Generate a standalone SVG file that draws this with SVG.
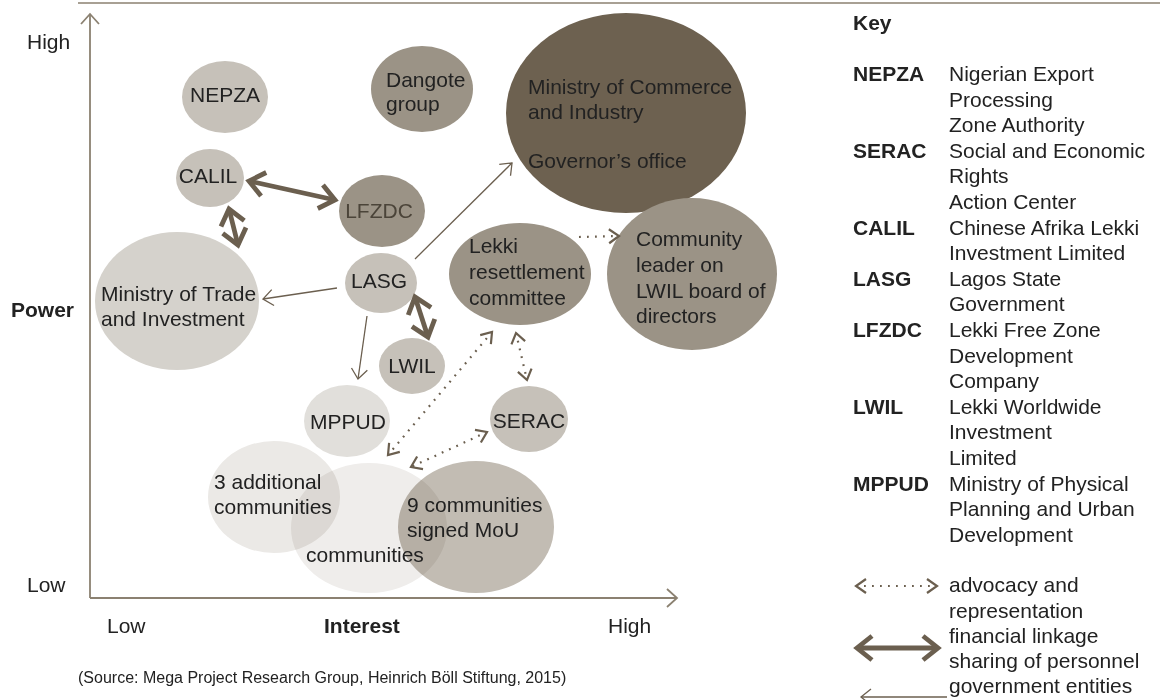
<svg xmlns="http://www.w3.org/2000/svg" width="1160" height="700" viewBox="0 0 1160 700">
<style>
text{font-family:"Liberation Sans",Arial,sans-serif;font-size:21px;fill:#222}
.b{font-weight:bold}
.c{text-anchor:middle}
.light{fill:#c6c1b9}
.med{fill:#9b9386}
.dark{fill:#6d6150}
.axis{stroke:#8b8171;stroke-width:1.8;fill:none}
.thick{stroke:#6b5f4f;stroke-width:4.8;fill:none;marker-start:url(#hThick);marker-end:url(#hThick)}
.thin{stroke:#6b5f4f;stroke-width:1.3;fill:none;marker-end:url(#hThin)}
.dot{stroke:#6b5f4f;stroke-width:2.2;fill:none;stroke-dasharray:1.8 6.2;marker-end:url(#hDot)}
.dot2{marker-start:url(#hDot)}
.mul{mix-blend-mode:multiply}
.src{font-size:16px}
</style>
<defs>
<marker id="hThick" markerUnits="userSpaceOnUse" orient="auto-start-reverse" overflow="visible" markerWidth="1" markerHeight="1" refX="0" refY="0">
<path d="M-15,-12 L0,0 L-15,12" fill="none" stroke="#6b5f4f" stroke-width="4.8"/>
</marker>
<marker id="hThin" markerUnits="userSpaceOnUse" orient="auto-start-reverse" overflow="visible" markerWidth="1" markerHeight="1" refX="0" refY="0">
<path d="M-10,-8 L0,0 L-10,8" fill="none" stroke="#6b5f4f" stroke-width="1.3"/>
</marker>
<marker id="hDot" markerUnits="userSpaceOnUse" orient="auto-start-reverse" overflow="visible" markerWidth="1" markerHeight="1" refX="0" refY="0">
<path d="M-10,-7 L0,0 L-10,7" fill="none" stroke="#6b5f4f" stroke-width="2.2"/>
</marker>
</defs>

<line x1="78" y1="3" x2="1160" y2="3" stroke="#8b8171" stroke-width="1.5"/>

<g id="axes">
<path class="axis" d="M90,598 V14"/>
<path class="axis" d="M81,24 L90,14 L99,24"/>
<path class="axis" d="M90,598 H677"/>
<path class="axis" d="M667,589 L677,598 L667,607"/>
<text x="27" y="49">High</text>
<text x="11" y="317" class="b">Power</text>
<text x="27" y="592">Low</text>
<text x="107" y="633">Low</text>
<text x="324" y="633" class="b">Interest</text>
<text x="608" y="633">High</text>
</g>

<g id="n-nepza"><ellipse cx="225" cy="97" rx="43" ry="36" class="light"/><text x="225" y="102" class="c">NEPZA</text></g>
<g id="n-calil"><ellipse cx="210" cy="178" rx="34" ry="29" class="light"/><text x="208" y="183" class="c">CALIL</text></g>
<g id="n-dangote"><ellipse cx="422" cy="89" rx="51" ry="43" class="med"/><text x="386" y="87">Dangote</text><text x="386" y="111">group</text></g>
<g id="n-commerce"><ellipse cx="626" cy="113" rx="120" ry="100" class="dark"/><text x="528" y="94">Ministry of Commerce</text><text x="528" y="119">and Industry</text><text x="528" y="168">Governor’s office</text></g>
<g id="n-lfzdc"><ellipse cx="382" cy="211" rx="43" ry="36" class="med"/><text x="379" y="218" class="c" style="fill:#4b4439">LFZDC</text></g>
<g id="n-trade"><ellipse cx="177" cy="301" rx="82" ry="69" fill="#d5d2cc"/><text x="101" y="301">Ministry of Trade</text><text x="101" y="326">and Investment</text></g>
<g id="n-lasg"><ellipse cx="381" cy="283" rx="36" ry="30" class="light"/><text x="379" y="288" class="c">LASG</text></g>
<g id="n-lekki"><ellipse cx="520" cy="274" rx="71" ry="51" class="med"/><text x="469" y="253">Lekki</text><text x="469" y="279">resettlement</text><text x="469" y="305">committee</text></g>
<g id="n-leader"><ellipse cx="692" cy="274" rx="85" ry="76" class="med"/><text x="636" y="246">Community</text><text x="636" y="272">leader on</text><text x="636" y="298">LWIL board of</text><text x="636" y="323">directors</text></g>
<g id="n-lwil"><ellipse cx="412" cy="366" rx="33" ry="28" class="light"/><text x="412" y="373" class="c">LWIL</text></g>
<g id="n-mppud"><ellipse cx="347" cy="421" rx="43" ry="36" fill="#e1dfdb"/><text x="348" y="429" class="c">MPPUD</text></g>
<g id="n-serac"><ellipse cx="529" cy="419" rx="39" ry="33" class="light"/><text x="529" y="428" class="c">SERAC</text></g>
<g id="n-3add"><ellipse cx="274" cy="497" rx="66" ry="56" fill="#ebe9e6" class="mul"/><text x="214" y="489">3 additional</text><text x="214" y="514">communities</text></g>
<g id="n-9comm"><ellipse cx="476" cy="527" rx="78" ry="66" fill="#c2bcb3" class="mul"/><text x="407" y="512">9 communities</text><text x="407" y="537">signed MoU</text></g>
<g id="n-comm"><ellipse cx="369" cy="528" rx="78" ry="65" fill="#efedeb" class="mul"/><text x="306" y="562">communities</text></g>

<g id="connectors">
<line class="thick" x1="249" y1="181" x2="335" y2="200"/>
<line class="thick" x1="229" y1="209" x2="238" y2="245"/>
<line class="thick" x1="415" y1="297" x2="428" y2="337"/>
<line class="thin" x1="337" y1="288" x2="263" y2="299"/>
<line class="thin" x1="415" y1="259" x2="512" y2="163"/>
<line class="thin" x1="367" y1="316" x2="358" y2="379"/>
<line class="dot" x1="579" y1="237" x2="619" y2="236"/>
<line class="dot dot2" x1="516" y1="333" x2="527" y2="380"/>
<line class="dot dot2" x1="492" y1="332" x2="388" y2="455"/>
<line class="dot dot2" x1="487" y1="432" x2="411" y2="467"/>
</g>

<g id="key">
<text x="853" y="30" class="b">Key</text>
<text x="853" y="81" class="b">NEPZA</text><text x="949" y="81">Nigerian Export</text>
<text x="949" y="106.6">Processing</text>
<text x="949" y="132.2">Zone Authority</text>
<text x="853" y="157.8" class="b">SERAC</text><text x="949" y="157.8">Social and Economic</text>
<text x="949" y="183.4">Rights</text>
<text x="949" y="209">Action Center</text>
<text x="853" y="234.6" class="b">CALIL</text><text x="949" y="234.6">Chinese Afrika Lekki</text>
<text x="949" y="260.2">Investment Limited</text>
<text x="853" y="285.8" class="b">LASG</text><text x="949" y="285.8">Lagos State</text>
<text x="949" y="311.4">Government</text>
<text x="853" y="337" class="b">LFZDC</text><text x="949" y="337">Lekki Free Zone</text>
<text x="949" y="362.6">Development</text>
<text x="949" y="388.2">Company</text>
<text x="853" y="413.8" class="b">LWIL</text><text x="949" y="413.8">Lekki Worldwide</text>
<text x="949" y="439.4">Investment</text>
<text x="949" y="465">Limited</text>
<text x="853" y="490.6" class="b">MPPUD</text><text x="949" y="490.6">Ministry of Physical</text>
<text x="949" y="516.2">Planning and Urban</text>
<text x="949" y="541.8">Development</text>
<line class="dot dot2" x1="856" y1="586" x2="937" y2="586"/>
<text x="949" y="592">advocacy and</text>
<text x="949" y="618">representation</text>
<line class="thick" x1="857" y1="648" x2="938" y2="648"/>
<text x="949" y="643">financial linkage</text>
<text x="949" y="668">sharing of personnel</text>
<line class="thin" x1="947" y1="697" x2="861" y2="697"/>
<text x="949" y="693">government entities</text>
</g>

<text x="78" y="683" class="src">(Source: Mega Project Research Group, Heinrich Böll Stiftung, 2015)</text>
</svg>
